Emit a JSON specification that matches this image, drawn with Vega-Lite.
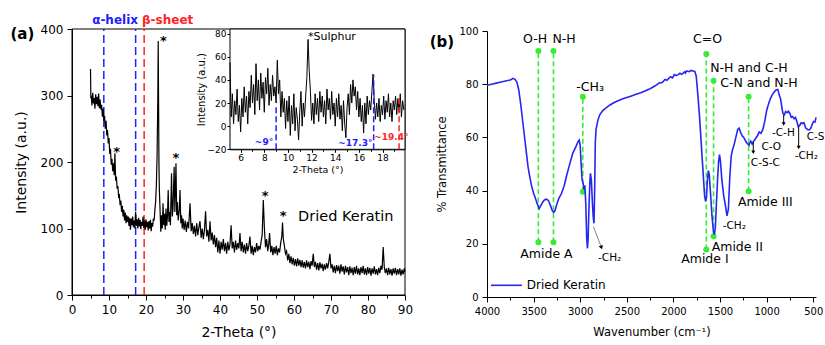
{
  "$schema": "https://vega.github.io/schema/vega-lite/v6.json",
  "autosize": {"type": "none"},
  "padding": {"left": 72, "top": 29, "right": 9, "bottom": 50},
  "width": 744,
  "height": 266,
  "config": {
    "font": "DejaVu Sans",
    "view": {"stroke": null},
    "axis": {"grid": false, "domainColor": "#000", "tickColor": "#000", "labelColor": "#000", "titleColor": "#000", "titleFontWeight": "normal", "tickSize": 5, "labelPadding": 4, "domainWidth": 1, "tickWidth": 1, "labelOverlap": false, "labelBound": false, "labelFlush": false},
    "text": {"color": "#000"}
  },
  "datasets": {
    "xrd": [
      {"theta":5.0,"intensity":340},{"theta":5.1,"intensity":296},{"theta":5.2,"intensity":300},{"theta":5.4,"intensity":285},{"theta":5.6,"intensity":304},{"theta":5.8,"intensity":288},{"theta":6.0,"intensity":296},{"theta":6.2,"intensity":280},{"theta":6.4,"intensity":302},{"theta":6.6,"intensity":287},{"theta":6.8,"intensity":298},{"theta":7.0,"intensity":284},{"theta":7.2,"intensity":303},{"theta":7.4,"intensity":281},{"theta":7.6,"intensity":294},{"theta":7.8,"intensity":279},{"theta":8.0,"intensity":286},{"theta":8.2,"intensity":268},{"theta":8.4,"intensity":280},{"theta":8.6,"intensity":262},{"theta":8.8,"intensity":270},{"theta":9.0,"intensity":250},{"theta":9.2,"intensity":262},{"theta":9.4,"intensity":240},{"theta":9.6,"intensity":248},{"theta":9.8,"intensity":228},{"theta":10.0,"intensity":236},{"theta":10.2,"intensity":212},{"theta":10.4,"intensity":220},{"theta":10.6,"intensity":196},{"theta":10.8,"intensity":205},{"theta":11.0,"intensity":186},{"theta":11.2,"intensity":198},{"theta":11.4,"intensity":180},{"theta":11.6,"intensity":213},{"theta":11.8,"intensity":172},{"theta":12.0,"intensity":178},{"theta":12.2,"intensity":160},{"theta":12.4,"intensity":164},{"theta":12.6,"intensity":148},{"theta":12.8,"intensity":150},{"theta":13.0,"intensity":135},{"theta":13.2,"intensity":142},{"theta":13.4,"intensity":125},{"theta":13.6,"intensity":134},{"theta":13.8,"intensity":118},{"theta":14.0,"intensity":128},{"theta":14.2,"intensity":112},{"theta":14.4,"intensity":124},{"theta":14.6,"intensity":108},{"theta":14.8,"intensity":120},{"theta":15.0,"intensity":110},{"theta":15.2,"intensity":118},{"theta":15.4,"intensity":104},{"theta":15.6,"intensity":116},{"theta":15.8,"intensity":98},{"theta":16.0,"intensity":115},{"theta":16.2,"intensity":105},{"theta":16.4,"intensity":118},{"theta":16.6,"intensity":102},{"theta":16.8,"intensity":112},{"theta":17.0,"intensity":100},{"theta":17.2,"intensity":125},{"theta":17.4,"intensity":104},{"theta":17.6,"intensity":114},{"theta":17.8,"intensity":100},{"theta":18.0,"intensity":116},{"theta":18.2,"intensity":103},{"theta":18.4,"intensity":113},{"theta":18.6,"intensity":99},{"theta":18.8,"intensity":110},{"theta":19.0,"intensity":104},{"theta":19.2,"intensity":118},{"theta":19.4,"intensity":101},{"theta":19.6,"intensity":112},{"theta":19.8,"intensity":98},{"theta":20.0,"intensity":114},{"theta":20.2,"intensity":102},{"theta":20.4,"intensity":110},{"theta":20.6,"intensity":97},{"theta":20.8,"intensity":111},{"theta":21.0,"intensity":100},{"theta":21.2,"intensity":113},{"theta":21.4,"intensity":96},{"theta":21.6,"intensity":108},{"theta":21.8,"intensity":103},{"theta":22.0,"intensity":115},{"theta":22.2,"intensity":112},{"theta":22.4,"intensity":128},{"theta":22.6,"intensity":140},{"theta":22.8,"intensity":165},{"theta":23.0,"intensity":210},{"theta":23.2,"intensity":300},{"theta":23.3,"intensity":382},{"theta":23.4,"intensity":290},{"theta":23.5,"intensity":200},{"theta":23.6,"intensity":160},{"theta":23.8,"intensity":128},{"theta":24.0,"intensity":95},{"theta":24.2,"intensity":120},{"theta":24.4,"intensity":100},{"theta":24.6,"intensity":138},{"theta":24.8,"intensity":105},{"theta":25.0,"intensity":122},{"theta":25.2,"intensity":98},{"theta":25.4,"intensity":130},{"theta":25.6,"intensity":104},{"theta":25.8,"intensity":118},{"theta":26.0,"intensity":158},{"theta":26.2,"intensity":110},{"theta":26.4,"intensity":125},{"theta":26.6,"intensity":105},{"theta":26.9,"intensity":183},{"theta":27.1,"intensity":118},{"theta":27.3,"intensity":130},{"theta":27.6,"intensity":193},{"theta":27.8,"intensity":125},{"theta":28.1,"intensity":198},{"theta":28.3,"intensity":120},{"theta":28.5,"intensity":140},{"theta":28.7,"intensity":112},{"theta":29.0,"intensity":128},{"theta":29.2,"intensity":158},{"theta":29.4,"intensity":108},{"theta":29.6,"intensity":120},{"theta":29.8,"intensity":100},{"theta":30.0,"intensity":115},{"theta":30.3,"intensity":98},{"theta":30.6,"intensity":112},{"theta":30.9,"intensity":95},{"theta":31.2,"intensity":110},{"theta":31.5,"intensity":100},{"theta":31.9,"intensity":138},{"theta":32.2,"intensity":96},{"theta":32.5,"intensity":108},{"theta":32.8,"intensity":92},{"theta":33.1,"intensity":104},{"theta":33.4,"intensity":88},{"theta":33.7,"intensity":108},{"theta":34.0,"intensity":90},{"theta":34.3,"intensity":102},{"theta":34.6,"intensity":111},{"theta":34.9,"intensity":86},{"theta":35.2,"intensity":100},{"theta":35.5,"intensity":84},{"theta":35.8,"intensity":98},{"theta":36.1,"intensity":126},{"theta":36.4,"intensity":88},{"theta":36.7,"intensity":98},{"theta":37.0,"intensity":80},{"theta":37.3,"intensity":111},{"theta":37.6,"intensity":82},{"theta":37.9,"intensity":94},{"theta":38.2,"intensity":76},{"theta":38.5,"intensity":90},{"theta":38.8,"intensity":72},{"theta":39.1,"intensity":86},{"theta":39.4,"intensity":64},{"theta":39.7,"intensity":82},{"theta":40.0,"intensity":62},{"theta":40.3,"intensity":80},{"theta":40.6,"intensity":68},{"theta":40.9,"intensity":84},{"theta":41.2,"intensity":66},{"theta":41.5,"intensity":78},{"theta":41.8,"intensity":62},{"theta":42.1,"intensity":80},{"theta":42.4,"intensity":67},{"theta":42.7,"intensity":76},{"theta":43.0,"intensity":105},{"theta":43.3,"intensity":70},{"theta":43.6,"intensity":80},{"theta":43.9,"intensity":64},{"theta":44.2,"intensity":82},{"theta":44.5,"intensity":68},{"theta":44.8,"intensity":78},{"theta":45.1,"intensity":70},{"theta":45.4,"intensity":93},{"theta":45.7,"intensity":66},{"theta":46.0,"intensity":80},{"theta":46.3,"intensity":64},{"theta":46.6,"intensity":76},{"theta":46.9,"intensity":62},{"theta":47.2,"intensity":78},{"theta":47.5,"intensity":66},{"theta":47.8,"intensity":74},{"theta":48.1,"intensity":88},{"theta":48.4,"intensity":62},{"theta":48.7,"intensity":74},{"theta":49.0,"intensity":60},{"theta":49.3,"intensity":72},{"theta":49.6,"intensity":64},{"theta":49.9,"intensity":78},{"theta":50.2,"intensity":66},{"theta":50.5,"intensity":74},{"theta":50.8,"intensity":68},{"theta":51.1,"intensity":80},{"theta":51.4,"intensity":90},{"theta":51.7,"intensity":143},{"theta":52.0,"intensity":100},{"theta":52.3,"intensity":72},{"theta":52.6,"intensity":84},{"theta":52.9,"intensity":66},{"theta":53.2,"intensity":78},{"theta":53.4,"intensity":93},{"theta":53.7,"intensity":64},{"theta":54.0,"intensity":74},{"theta":54.3,"intensity":60},{"theta":54.6,"intensity":72},{"theta":54.9,"intensity":62},{"theta":55.2,"intensity":74},{"theta":55.5,"intensity":60},{"theta":55.8,"intensity":70},{"theta":56.1,"intensity":64},{"theta":56.4,"intensity":78},{"theta":56.7,"intensity":88},{"theta":56.9,"intensity":109},{"theta":57.1,"intensity":85},{"theta":57.4,"intensity":74},{"theta":57.7,"intensity":62},{"theta":58.0,"intensity":66},{"theta":58.3,"intensity":52},{"theta":58.6,"intensity":62},{"theta":58.9,"intensity":48},{"theta":59.2,"intensity":58},{"theta":59.5,"intensity":46},{"theta":59.8,"intensity":56},{"theta":60.1,"intensity":44},{"theta":60.4,"intensity":54},{"theta":60.7,"intensity":43},{"theta":61.0,"intensity":55},{"theta":61.3,"intensity":44},{"theta":61.6,"intensity":53},{"theta":61.9,"intensity":42},{"theta":62.2,"intensity":52},{"theta":62.5,"intensity":41},{"theta":62.8,"intensity":50},{"theta":63.1,"intensity":40},{"theta":63.4,"intensity":52},{"theta":63.7,"intensity":42},{"theta":64.0,"intensity":50},{"theta":64.3,"intensity":39},{"theta":64.6,"intensity":51},{"theta":64.9,"intensity":44},{"theta":65.2,"intensity":62},{"theta":65.5,"intensity":42},{"theta":65.8,"intensity":50},{"theta":66.1,"intensity":38},{"theta":66.4,"intensity":48},{"theta":66.7,"intensity":37},{"theta":67.0,"intensity":49},{"theta":67.3,"intensity":40},{"theta":67.6,"intensity":47},{"theta":67.9,"intensity":36},{"theta":68.2,"intensity":46},{"theta":68.5,"intensity":38},{"theta":68.8,"intensity":48},{"theta":69.1,"intensity":40},{"theta":69.4,"intensity":50},{"theta":69.7,"intensity":62},{"theta":70.0,"intensity":40},{"theta":70.3,"intensity":46},{"theta":70.6,"intensity":34},{"theta":70.9,"intensity":44},{"theta":71.2,"intensity":33},{"theta":71.5,"intensity":45},{"theta":71.8,"intensity":36},{"theta":72.1,"intensity":44},{"theta":72.4,"intensity":32},{"theta":72.7,"intensity":46},{"theta":73.0,"intensity":35},{"theta":73.3,"intensity":43},{"theta":73.6,"intensity":31},{"theta":73.9,"intensity":44},{"theta":74.2,"intensity":34},{"theta":74.5,"intensity":42},{"theta":74.8,"intensity":30},{"theta":75.1,"intensity":43},{"theta":75.4,"intensity":33},{"theta":75.7,"intensity":41},{"theta":76.0,"intensity":30},{"theta":76.3,"intensity":42},{"theta":76.6,"intensity":32},{"theta":76.9,"intensity":44},{"theta":77.2,"intensity":31},{"theta":77.5,"intensity":40},{"theta":77.8,"intensity":30},{"theta":78.1,"intensity":42},{"theta":78.4,"intensity":33},{"theta":78.7,"intensity":44},{"theta":79.0,"intensity":31},{"theta":79.3,"intensity":40},{"theta":79.6,"intensity":30},{"theta":79.9,"intensity":42},{"theta":80.2,"intensity":32},{"theta":80.5,"intensity":41},{"theta":80.8,"intensity":29},{"theta":81.1,"intensity":40},{"theta":81.4,"intensity":32},{"theta":81.7,"intensity":43},{"theta":82.0,"intensity":31},{"theta":82.3,"intensity":39},{"theta":82.6,"intensity":30},{"theta":82.9,"intensity":41},{"theta":83.2,"intensity":33},{"theta":83.5,"intensity":44},{"theta":83.8,"intensity":38},{"theta":84.1,"intensity":72},{"theta":84.4,"intensity":42},{"theta":84.7,"intensity":33},{"theta":85.0,"intensity":40},{"theta":85.3,"intensity":30},{"theta":85.6,"intensity":41},{"theta":85.9,"intensity":31},{"theta":86.2,"intensity":39},{"theta":86.5,"intensity":29},{"theta":86.8,"intensity":40},{"theta":87.1,"intensity":32},{"theta":87.4,"intensity":41},{"theta":87.7,"intensity":30},{"theta":88.0,"intensity":39},{"theta":88.3,"intensity":31},{"theta":88.6,"intensity":40},{"theta":88.9,"intensity":29},{"theta":89.2,"intensity":38},{"theta":89.5,"intensity":31},{"theta":89.8,"intensity":40},{"theta":90.0,"intensity":34}
    ],
    "inset": [
      {"theta":5.1,"intensity":55},{"theta":5.2,"intensity":8},{"theta":5.3,"intensity":28},{"theta":5.4,"intensity":2},{"theta":5.5,"intensity":22},{"theta":5.6,"intensity":10},{"theta":5.7,"intensity":32},{"theta":5.8,"intensity":4},{"theta":5.9,"intensity":18},{"theta":6.0,"intensity":-5},{"theta":6.1,"intensity":24},{"theta":6.2,"intensity":8},{"theta":6.3,"intensity":34},{"theta":6.4,"intensity":12},{"theta":6.5,"intensity":26},{"theta":6.6,"intensity":2},{"theta":6.7,"intensity":30},{"theta":6.8,"intensity":16},{"theta":6.9,"intensity":44},{"theta":7.0,"intensity":20},{"theta":7.1,"intensity":36},{"theta":7.2,"intensity":10},{"theta":7.3,"intensity":54},{"theta":7.4,"intensity":22},{"theta":7.5,"intensity":40},{"theta":7.6,"intensity":14},{"theta":7.7,"intensity":46},{"theta":7.8,"intensity":24},{"theta":7.9,"intensity":38},{"theta":8.0,"intensity":12},{"theta":8.1,"intensity":42},{"theta":8.2,"intensity":28},{"theta":8.3,"intensity":50},{"theta":8.4,"intensity":18},{"theta":8.5,"intensity":36},{"theta":8.6,"intensity":22},{"theta":8.7,"intensity":44},{"theta":8.8,"intensity":26},{"theta":8.9,"intensity":34},{"theta":9.0,"intensity":20},{"theta":9.1,"intensity":57},{"theta":9.2,"intensity":28},{"theta":9.3,"intensity":40},{"theta":9.4,"intensity":8},{"theta":9.5,"intensity":30},{"theta":9.6,"intensity":12},{"theta":9.7,"intensity":24},{"theta":9.8,"intensity":-2},{"theta":9.9,"intensity":22},{"theta":10.0,"intensity":4},{"theta":10.1,"intensity":26},{"theta":10.2,"intensity":-8},{"theta":10.3,"intensity":18},{"theta":10.4,"intensity":2},{"theta":10.5,"intensity":28},{"theta":10.6,"intensity":-4},{"theta":10.7,"intensity":16},{"theta":10.8,"intensity":6},{"theta":10.9,"intensity":-12},{"theta":11.0,"intensity":12},{"theta":11.1,"intensity":30},{"theta":11.2,"intensity":0},{"theta":11.3,"intensity":20},{"theta":11.4,"intensity":8},{"theta":11.5,"intensity":26},{"theta":11.6,"intensity":42},{"theta":11.7,"intensity":75},{"theta":11.8,"intensity":48},{"theta":11.9,"intensity":30},{"theta":12.0,"intensity":5},{"theta":12.1,"intensity":20},{"theta":12.2,"intensity":2},{"theta":12.3,"intensity":28},{"theta":12.4,"intensity":10},{"theta":12.5,"intensity":24},{"theta":12.6,"intensity":4},{"theta":12.7,"intensity":30},{"theta":12.8,"intensity":12},{"theta":12.9,"intensity":26},{"theta":13.0,"intensity":8},{"theta":13.1,"intensity":22},{"theta":13.2,"intensity":2},{"theta":13.3,"intensity":32},{"theta":13.4,"intensity":14},{"theta":13.5,"intensity":24},{"theta":13.6,"intensity":6},{"theta":13.7,"intensity":30},{"theta":13.8,"intensity":10},{"theta":13.9,"intensity":20},{"theta":14.0,"intensity":0},{"theta":14.1,"intensity":24},{"theta":14.2,"intensity":8},{"theta":14.3,"intensity":28},{"theta":14.4,"intensity":6},{"theta":14.5,"intensity":18},{"theta":14.6,"intensity":-4},{"theta":14.7,"intensity":22},{"theta":14.8,"intensity":2},{"theta":14.9,"intensity":-10},{"theta":15.0,"intensity":16},{"theta":15.1,"intensity":28},{"theta":15.2,"intensity":10},{"theta":15.3,"intensity":36},{"theta":15.4,"intensity":20},{"theta":15.5,"intensity":40},{"theta":15.6,"intensity":26},{"theta":15.7,"intensity":34},{"theta":15.8,"intensity":14},{"theta":15.9,"intensity":30},{"theta":16.0,"intensity":8},{"theta":16.1,"intensity":24},{"theta":16.2,"intensity":4},{"theta":16.3,"intensity":18},{"theta":16.4,"intensity":-6},{"theta":16.5,"intensity":20},{"theta":16.6,"intensity":2},{"theta":16.7,"intensity":26},{"theta":16.8,"intensity":10},{"theta":16.9,"intensity":22},{"theta":17.0,"intensity":14},{"theta":17.1,"intensity":30},{"theta":17.2,"intensity":45},{"theta":17.3,"intensity":22},{"theta":17.4,"intensity":6},{"theta":17.5,"intensity":20},{"theta":17.6,"intensity":8},{"theta":17.7,"intensity":24},{"theta":17.8,"intensity":4},{"theta":17.9,"intensity":18},{"theta":18.0,"intensity":10},{"theta":18.1,"intensity":26},{"theta":18.2,"intensity":6},{"theta":18.3,"intensity":22},{"theta":18.4,"intensity":12},{"theta":18.5,"intensity":28},{"theta":18.6,"intensity":8},{"theta":18.7,"intensity":20},{"theta":18.8,"intensity":4},{"theta":18.9,"intensity":22},{"theta":19.0,"intensity":14},{"theta":19.1,"intensity":26},{"theta":19.2,"intensity":10},{"theta":19.3,"intensity":24},{"theta":19.4,"intensity":12},{"theta":19.5,"intensity":28},{"theta":19.6,"intensity":8},{"theta":19.7,"intensity":22},{"theta":19.8,"intensity":14}
    ],
    "ftir": [
      {"wn":4000,"tr":79.6},{"wn":3950,"tr":80.0},{"wn":3900,"tr":80.4},{"wn":3850,"tr":80.8},{"wn":3800,"tr":81.2},{"wn":3750,"tr":81.6},{"wn":3720,"tr":82.2},{"wn":3700,"tr":81.8},{"wn":3680,"tr":80.8},{"wn":3660,"tr":78},{"wn":3640,"tr":73},{"wn":3620,"tr":67},{"wn":3600,"tr":61},{"wn":3580,"tr":55},{"wn":3560,"tr":49},{"wn":3540,"tr":45},{"wn":3520,"tr":41.5},{"wn":3500,"tr":39},{"wn":3480,"tr":37},{"wn":3460,"tr":35},{"wn":3440,"tr":33.2},{"wn":3420,"tr":34.5},{"wn":3400,"tr":35.8},{"wn":3380,"tr":36.6},{"wn":3360,"tr":36.8},{"wn":3340,"tr":36.2},{"wn":3320,"tr":34.5},{"wn":3300,"tr":32.5},{"wn":3285,"tr":31.8},{"wn":3270,"tr":32.5},{"wn":3250,"tr":35},{"wn":3230,"tr":37},{"wn":3200,"tr":39},{"wn":3170,"tr":42},{"wn":3150,"tr":45},{"wn":3120,"tr":49},{"wn":3100,"tr":51.5},{"wn":3080,"tr":54},{"wn":3060,"tr":55.5},{"wn":3040,"tr":57},{"wn":3020,"tr":58.6},{"wn":3010,"tr":59},{"wn":3000,"tr":57},{"wn":2990,"tr":50},{"wn":2980,"tr":44},{"wn":2970,"tr":43},{"wn":2960,"tr":40.5},{"wn":2950,"tr":42},{"wn":2940,"tr":35},{"wn":2930,"tr":22},{"wn":2922,"tr":18.3},{"wn":2915,"tr":22},{"wn":2905,"tr":35},{"wn":2895,"tr":44},{"wn":2890,"tr":46.5},{"wn":2880,"tr":44},{"wn":2870,"tr":36},{"wn":2860,"tr":30},{"wn":2852,"tr":27.7},{"wn":2845,"tr":40},{"wn":2838,"tr":58},{"wn":2830,"tr":63},{"wn":2810,"tr":66.5},{"wn":2790,"tr":68.5},{"wn":2760,"tr":70},{"wn":2720,"tr":71.2},{"wn":2680,"tr":72.2},{"wn":2640,"tr":73},{"wn":2600,"tr":73.7},{"wn":2550,"tr":74.4},{"wn":2500,"tr":75},{"wn":2450,"tr":75.6},{"wn":2400,"tr":76.2},{"wn":2350,"tr":76.8},{"wn":2300,"tr":77.5},{"wn":2250,"tr":78.3},{"wn":2200,"tr":79.3},{"wn":2150,"tr":80.5},{"wn":2120,"tr":80.6},{"wn":2100,"tr":81.4},{"wn":2090,"tr":81.8},{"wn":2070,"tr":81.5},{"wn":2050,"tr":82.2},{"wn":2030,"tr":82.8},{"wn":2010,"tr":82.4},{"wn":1990,"tr":83.6},{"wn":1970,"tr":83.2},{"wn":1950,"tr":83.6},{"wn":1930,"tr":84.1},{"wn":1910,"tr":83.7},{"wn":1880,"tr":84.6},{"wn":1870,"tr":84.2},{"wn":1860,"tr":85},{"wn":1830,"tr":84.7},{"wn":1810,"tr":85.2},{"wn":1790,"tr":85},{"wn":1770,"tr":84.8},{"wn":1755,"tr":83},{"wn":1740,"tr":77},{"wn":1720,"tr":68},{"wn":1700,"tr":57},{"wn":1680,"tr":46},{"wn":1665,"tr":38},{"wn":1655,"tr":36},{"wn":1645,"tr":37.5},{"wn":1635,"tr":44},{"wn":1625,"tr":47.5},{"wn":1615,"tr":46},{"wn":1600,"tr":38},{"wn":1585,"tr":30},{"wn":1570,"tr":24.5},{"wn":1560,"tr":23.5},{"wn":1550,"tr":26},{"wn":1540,"tr":34},{"wn":1525,"tr":45},{"wn":1515,"tr":51},{"wn":1505,"tr":53.5},{"wn":1495,"tr":51},{"wn":1480,"tr":44},{"wn":1460,"tr":38},{"wn":1440,"tr":34},{"wn":1425,"tr":30.5},{"wn":1410,"tr":33},{"wn":1395,"tr":45},{"wn":1380,"tr":53},{"wn":1365,"tr":55.5},{"wn":1350,"tr":57},{"wn":1330,"tr":60},{"wn":1310,"tr":63},{"wn":1295,"tr":63.5},{"wn":1280,"tr":62},{"wn":1260,"tr":60.5},{"wn":1245,"tr":60},{"wn":1230,"tr":59},{"wn":1215,"tr":58},{"wn":1200,"tr":57.5},{"wn":1190,"tr":57},{"wn":1180,"tr":58},{"wn":1170,"tr":58.6},{"wn":1155,"tr":57.5},{"wn":1140,"tr":58.5},{"wn":1120,"tr":59.5},{"wn":1100,"tr":60.5},{"wn":1080,"tr":62},{"wn":1060,"tr":61.5},{"wn":1040,"tr":63},{"wn":1020,"tr":66},{"wn":1000,"tr":70},{"wn":980,"tr":72.5},{"wn":960,"tr":74.5},{"wn":940,"tr":76},{"wn":920,"tr":77},{"wn":900,"tr":77.8},{"wn":880,"tr":78},{"wn":865,"tr":76},{"wn":850,"tr":74.5},{"wn":835,"tr":71},{"wn":825,"tr":69},{"wn":810,"tr":68.5},{"wn":795,"tr":69.7},{"wn":780,"tr":69.3},{"wn":765,"tr":69.8},{"wn":750,"tr":69},{"wn":735,"tr":67.5},{"wn":720,"tr":67.8},{"wn":705,"tr":67},{"wn":690,"tr":67.5},{"wn":675,"tr":66},{"wn":660,"tr":64},{"wn":645,"tr":64.5},{"wn":630,"tr":65.5},{"wn":615,"tr":65.2},{"wn":600,"tr":65.5},{"wn":580,"tr":63.5},{"wn":560,"tr":63},{"wn":540,"tr":62.8},{"wn":525,"tr":63.5},{"wn":510,"tr":65},{"wn":495,"tr":66},{"wn":480,"tr":65.8},{"wn":470,"tr":67.5}
    ]
  },
  "layer": [
    {
      "layer": [
        {
          "data": {"values": [{"x0": 0, "x1": 90, "y0": 0, "y1": 400}]},
          "mark": {"type": "rect", "fill": "#fff", "fillOpacity": 0, "stroke": "#000", "strokeWidth": 1},
          "encoding": {
            "x": {"field": "x0", "type": "quantitative", "scale": {"domain": [0, 90], "range": [0, 333], "nice": false, "zero": false}, "axis": {"orient": "bottom", "values": [0,5,10,15,20,25,30,35,40,45,50,55,60,65,70,75,80,85,90], "labelExpr": "datum.value % 10 === 0 ? datum.label : ''", "tickSize": {"condition": {"test": "datum.value % 10 !== 0", "value": 3}, "value": 5}, "title": "2-Theta (°)", "labelFontSize": 12, "titleFontSize": 14, "titlePadding": 10}},
            "x2": {"field": "x1"},
            "y": {"field": "y0", "type": "quantitative", "scale": {"domain": [0, 400], "range": [266, 0], "nice": false, "zero": false}, "axis": {"orient": "left", "values": [0,25,50,75,100,125,150,175,200,225,250,275,300,325,350,375,400], "labelExpr": "datum.value % 50 === 0 ? datum.label : ''", "tickSize": {"condition": {"test": "datum.value % 50 !== 0", "value": 3}, "value": 5}, "title": "Intensity (a.u.)", "labelFontSize": 12, "titleFontSize": 14, "titlePadding": 12}},
            "y2": {"field": "y1"}
          }
        },
        {
          "data": {"values": [{"theta": 8.6, "group": "helix"}, {"theta": 17.2, "group": "helix"}, {"theta": 19.5, "group": "sheet"}]},
          "mark": {"type": "rule", "strokeDash": [8, 4], "strokeWidth": 1.5},
          "encoding": {
            "x": {"field": "theta", "type": "quantitative"},
            "y": {"datum": 0, "type": "quantitative"},
            "y2": {"datum": 400},
            "color": {"field": "group", "type": "nominal", "scale": {"domain": ["helix", "sheet"], "range": ["#2020ff", "#ff2222"]}, "legend": null}
          }
        },
        {
          "data": {"name": "xrd"},
          "mark": {"type": "line", "color": "#000", "strokeWidth": 1.2},
          "encoding": {
            "x": {"field": "theta", "type": "quantitative"},
            "y": {"field": "intensity", "type": "quantitative"}
          }
        },
        {
          "data": {"values": [{"theta": 24.7, "intensity": 387}, {"theta": 12.1, "intensity": 220}, {"theta": 28.1, "intensity": 211}, {"theta": 52.2, "intensity": 154}, {"theta": 57.1, "intensity": 124}]},
          "mark": {"type": "text", "text": "*", "fontSize": 13, "dy": 3, "fontWeight": "bold"},
          "encoding": {
            "x": {"field": "theta", "type": "quantitative"},
            "y": {"field": "intensity", "type": "quantitative"}
          }
        },
        {
          "data": {"values": [{"theta": 17.84, "intensity": 413.5, "label": "α-helix", "group": "helix"}]},
          "mark": {"type": "text", "fontSize": 12, "fontWeight": "bold", "align": "right"},
          "encoding": {
            "x": {"field": "theta", "type": "quantitative"},
            "y": {"field": "intensity", "type": "quantitative"},
            "text": {"field": "label"},
            "color": {"field": "group", "type": "nominal", "legend": null}
          }
        },
        {
          "data": {"values": [{"theta": 18.92, "intensity": 413.5, "label": "β-sheet", "group": "sheet"}]},
          "mark": {"type": "text", "fontSize": 12, "fontWeight": "bold", "align": "left"},
          "encoding": {
            "x": {"field": "theta", "type": "quantitative"},
            "y": {"field": "intensity", "type": "quantitative"},
            "text": {"field": "label"},
            "color": {"field": "group", "type": "nominal", "legend": null}
          }
        },
        {
          "data": {"values": [{"theta": -13.4, "intensity": 393, "label": "(a)"}]},
          "mark": {"type": "text", "fontSize": 15, "fontWeight": "bold"},
          "encoding": {
            "x": {"field": "theta", "type": "quantitative"},
            "y": {"field": "intensity", "type": "quantitative"},
            "text": {"field": "label"}
          }
        },
        {
          "data": {"values": [{"theta": 61.1, "intensity": 117.7, "label": "Dried Keratin"}]},
          "mark": {"type": "text", "fontSize": 14.5, "align": "left"},
          "encoding": {
            "x": {"field": "theta", "type": "quantitative"},
            "y": {"field": "intensity", "type": "quantitative"},
            "text": {"field": "label"}
          }
        }
      ]
    },
    {
      "layer": [
        {
          "data": {"values": [{"x0": 5.1, "x1": 19.9, "y0": -20, "y1": 84}]},
          "mark": {"type": "rect", "fill": "#fff", "stroke": "#000", "strokeWidth": 1},
          "encoding": {
            "x": {"field": "x0", "type": "quantitative", "scale": {"domain": [5.1, 19.9], "range": [158, 333], "nice": false, "zero": false}, "axis": {"orient": "bottom", "offset": -145.7, "values": [6,7,8,9,10,11,12,13,14,15,16,17,18,19], "labelExpr": "datum.value % 2 === 0 ? datum.label : ''", "tickSize": {"condition": {"test": "datum.value % 2 !== 0", "value": 2}, "value": 3}, "title": "2-Theta (°)", "labelFontSize": 9, "titleFontSize": 9.5, "labelPadding": 1, "titlePadding": 2}},
            "x2": {"field": "x1"},
            "y": {"field": "y0", "type": "quantitative", "scale": {"domain": [-20, 84], "range": [120.3, 0], "nice": false, "zero": false}, "axis": {"orient": "left", "offset": -158, "values": [-20,-10,0,10,20,30,40,50,60,70,80], "labelExpr": "datum.value % 20 === 0 ? datum.label : ''", "tickSize": {"condition": {"test": "datum.value % 20 !== 0", "value": 2}, "value": 3}, "title": "Intensity (a.u.)", "labelFontSize": 9, "titleFontSize": 10, "labelPadding": 1, "titlePadding": 1}},
            "y2": {"field": "y1"}
          }
        },
        {
          "data": {"name": "inset"},
          "mark": {"type": "line", "color": "#000", "strokeWidth": 1},
          "encoding": {
            "x": {"field": "theta", "type": "quantitative"},
            "y": {"field": "intensity", "type": "quantitative"}
          }
        },
        {
          "data": {"values": [{"theta": 9.0, "lo": -20, "hi": 17, "group": "helix"}, {"theta": 17.25, "lo": -20, "hi": 44, "group": "helix"}, {"theta": 19.4, "lo": -20, "hi": 24, "group": "sheet"}]},
          "mark": {"type": "rule", "strokeDash": [6, 3], "strokeWidth": 1.5},
          "encoding": {
            "x": {"field": "theta", "type": "quantitative"},
            "y": {"field": "lo", "type": "quantitative"},
            "y2": {"field": "hi"},
            "color": {"field": "group", "type": "nominal", "legend": null}
          }
        },
        {
          "data": {"values": [{"theta": 8.75, "intensity": -13.6, "label": "~9°", "group": "helix"}, {"theta": 17.15, "intensity": -14.2, "label": "~17.3°", "group": "helix"}]},
          "mark": {"type": "text", "fontSize": 9, "fontWeight": "bold", "align": "right"},
          "encoding": {
            "x": {"field": "theta", "type": "quantitative"},
            "y": {"field": "intensity", "type": "quantitative"},
            "text": {"field": "label"},
            "color": {"field": "group", "type": "nominal", "legend": null}
          }
        },
        {
          "data": {"values": [{"theta": 17.3, "intensity": -9.2, "label": "~19.4°", "group": "sheet"}]},
          "mark": {"type": "text", "fontSize": 9, "fontWeight": "bold", "align": "left"},
          "encoding": {
            "x": {"field": "theta", "type": "quantitative"},
            "y": {"field": "intensity", "type": "quantitative"},
            "text": {"field": "label"},
            "color": {"field": "group", "type": "nominal", "legend": null}
          }
        },
        {
          "data": {"values": [{"theta": 11.69, "intensity": 77.2, "label": "*Sulphur"}]},
          "mark": {"type": "text", "fontSize": 11, "align": "left"},
          "encoding": {
            "x": {"field": "theta", "type": "quantitative"},
            "y": {"field": "intensity", "type": "quantitative"},
            "text": {"field": "label"}
          }
        }
      ]
    },
    {
      "layer": [
        {
          "data": {"values": [{"wn": 3449, "lo": 20.6, "hi": 92.5}, {"wn": 3287, "lo": 20.6, "hi": 92.5}, {"wn": 2972, "lo": 39.6, "hi": 75.3}, {"wn": 1647, "lo": 17.9, "hi": 91.4}, {"wn": 1569, "lo": 22.8, "hi": 81.3}, {"wn": 1193, "lo": 39.8, "hi": 75.3}]},
          "layer": [
            {
              "mark": {"type": "rule", "color": "#33ee33", "strokeDash": [5, 3], "strokeWidth": 1.6},
              "encoding": {
                "x": {"field": "wn", "type": "quantitative", "scale": {"domain": [4000, 470], "range": [415, 744], "nice": false, "zero": false}, "axis": {"orient": "bottom", "offset": 2, "values": [4000,3750,3500,3250,3000,2750,2500,2250,2000,1750,1500,1250,1000,750,500], "labelExpr": "datum.value % 500 === 0 ? format(datum.value, 'd') : ''", "tickSize": {"condition": {"test": "datum.value % 500 !== 0", "value": 3}, "value": 5}, "title": "Wavenumber (cm⁻¹)", "labelFontSize": 10, "titleFontSize": 11.5, "titlePadding": 10}},
                "y": {"field": "lo", "type": "quantitative", "scale": {"domain": [0, 100], "range": [268, 2], "nice": false, "zero": false}, "axis": {"orient": "left", "offset": -415, "values": [0,10,20,30,40,50,60,70,80,90,100], "labelExpr": "datum.value % 20 === 0 ? datum.label : ''", "tickSize": {"condition": {"test": "datum.value % 20 !== 0", "value": 3}, "value": 5}, "title": "% Transmittance", "labelFontSize": 10, "titleFontSize": 11.5, "titlePadding": 11}},
                "y2": {"field": "hi"}
              }
            },
            {
              "mark": {"type": "circle", "color": "#33ee33", "size": 36, "opacity": 1},
              "encoding": {
                "x": {"field": "wn", "type": "quantitative"},
                "y": {"field": "lo", "type": "quantitative"}
              }
            },
            {
              "mark": {"type": "circle", "color": "#33ee33", "size": 36, "opacity": 1},
              "encoding": {
                "x": {"field": "wn", "type": "quantitative"},
                "y": {"field": "hi", "type": "quantitative"}
              }
            }
          ]
        },
        {
          "data": {"name": "ftir"},
          "mark": {"type": "line", "color": "#2626f2", "strokeWidth": 1.6},
          "encoding": {
            "x": {"field": "wn", "type": "quantitative"},
            "y": {"field": "tr", "type": "quantitative"}
          }
        },
        {
          "data": {"values": [{"wn": 3484, "tr": 97, "label": "O-H"}, {"wn": 3173, "tr": 97, "label": "N-H"}, {"wn": 2894, "tr": 79, "label": "-CH₃"}, {"wn": 1633, "tr": 97, "label": "C=O"}, {"wn": 3362, "tr": 16, "label": "Amide A"}, {"wn": 1662, "tr": 14.3, "label": "Amide I"}, {"wn": 1315, "tr": 18.9, "label": "Amide II"}, {"wn": 1014, "tr": 35.6, "label": "Amide III"}]},
          "mark": {"type": "text", "fontSize": 12.5},
          "encoding": {
            "x": {"field": "wn", "type": "quantitative"},
            "y": {"field": "tr", "type": "quantitative"},
            "text": {"field": "label"}
          }
        },
        {
          "data": {"values": [{"wn": 1605, "tr": 86, "label": "N-H and C-H"}, {"wn": 1497, "tr": 80.3, "label": "C-N and N-H"}]},
          "mark": {"type": "text", "fontSize": 12.5, "align": "left"},
          "encoding": {
            "x": {"field": "wn", "type": "quantitative"},
            "y": {"field": "tr", "type": "quantitative"},
            "text": {"field": "label"}
          }
        },
        {
          "data": {"values": [{"wn": 950, "tr": 56.5, "label": "C-O"}, {"wn": 1014, "tr": 50.2, "label": "C-S-C"}, {"wn": 820, "tr": 61.8, "label": "-C-H"}, {"wn": 574, "tr": 53, "label": "-CH₂"}, {"wn": 474, "tr": 60, "label": "C-S"}, {"wn": 2684, "tr": 14.5, "label": "-CH₂"}, {"wn": 1347, "tr": 26.8, "label": "-CH₂"}]},
          "mark": {"type": "text", "fontSize": 10.5},
          "encoding": {
            "x": {"field": "wn", "type": "quantitative"},
            "y": {"field": "tr", "type": "quantitative"},
            "text": {"field": "label"}
          }
        },
        {
          "data": {"values": [{"wn": 1143, "tr": 58.4, "tr2": 54.4}, {"wn": 817, "tr": 68.4, "tr2": 65}, {"wn": 656, "tr": 64, "tr2": 56.2}]},
          "layer": [
            {
              "mark": {"type": "rule", "color": "#000", "strokeWidth": 1},
              "encoding": {
                "x": {"field": "wn", "type": "quantitative"},
                "y": {"field": "tr", "type": "quantitative"},
                "y2": {"field": "tr2"}
              }
            },
            {
              "mark": {"type": "point", "shape": "triangle-down", "filled": true, "color": "#000", "size": 16, "opacity": 1},
              "encoding": {
                "x": {"field": "wn", "type": "quantitative"},
                "y": {"field": "tr2", "type": "quantitative"}
              }
            }
          ]
        },
        {
          "data": {"values": [{"wn": 2858, "tr": 26.4, "wn2": 2772, "tr2": 18.6}]},
          "layer": [
            {
              "mark": {"type": "rule", "color": "#888", "strokeWidth": 1},
              "encoding": {
                "x": {"field": "wn", "type": "quantitative"},
                "x2": {"field": "wn2"},
                "y": {"field": "tr", "type": "quantitative"},
                "y2": {"field": "tr2"}
              }
            },
            {
              "mark": {"type": "point", "shape": "triangle-down", "filled": true, "color": "#000", "size": 20, "opacity": 1, "angle": 340},
              "encoding": {
                "x": {"field": "wn2", "type": "quantitative"},
                "y": {"field": "tr2", "type": "quantitative"}
              }
            }
          ]
        },
        {
          "data": {"values": [{"wn": 3957, "wn2": 3625, "tr": 4.4}]},
          "mark": {"type": "rule", "color": "#2626f2", "strokeWidth": 1.6},
          "encoding": {
            "x": {"field": "wn", "type": "quantitative"},
            "x2": {"field": "wn2"},
            "y": {"field": "tr", "type": "quantitative"}
          }
        },
        {
          "data": {"values": [{"wn": 3574, "tr": 4.4, "label": "Dried Keratin"}]},
          "mark": {"type": "text", "fontSize": 12, "align": "left"},
          "encoding": {
            "x": {"field": "wn", "type": "quantitative"},
            "y": {"field": "tr", "type": "quantitative"},
            "text": {"field": "label"}
          }
        },
        {
          "data": {"values": [{"wn": 4483, "tr": 96, "label": "(b)"}]},
          "mark": {"type": "text", "fontSize": 15, "fontWeight": "bold"},
          "encoding": {
            "x": {"field": "wn", "type": "quantitative"},
            "y": {"field": "tr", "type": "quantitative"},
            "text": {"field": "label"}
          }
        }
      ]
    }
  ],
  "resolve": {"scale": {"x": "independent", "y": "independent"}, "axis": {"x": "independent", "y": "independent"}}
}
